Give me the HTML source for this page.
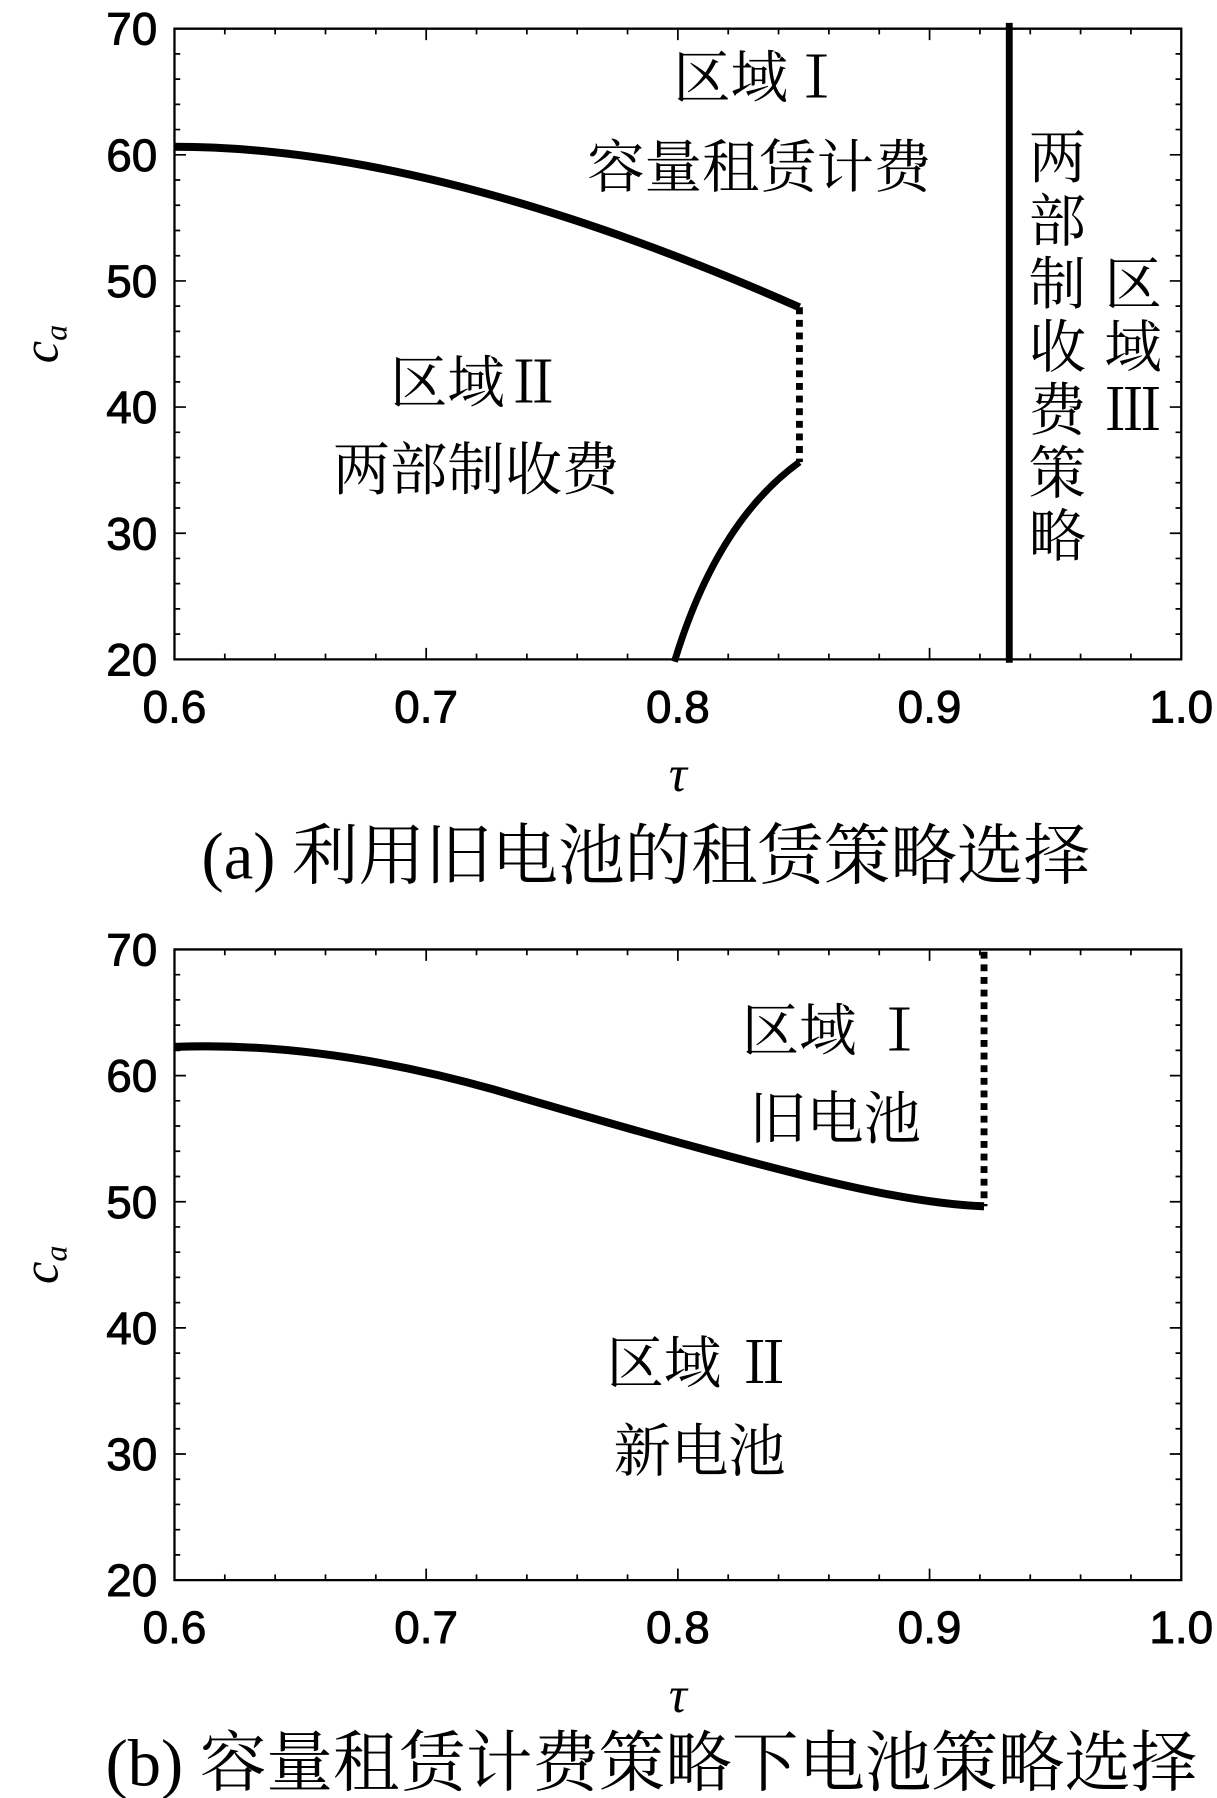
<!DOCTYPE html>
<html><head><meta charset="utf-8"><style>
html,body{margin:0;padding:0;background:#fff;}
svg{display:block;}
text{font-family:"Liberation Serif","Noto Serif CJK SC",serif;}
.t{font-family:"Liberation Sans",sans-serif;font-size:40px;stroke:#000;stroke-width:0.8;}
.r{font-size:50px;}
</style></head><body>
<svg width="1217" height="1798" viewBox="0 0 1061 1568" xmlns="http://www.w3.org/2000/svg">
<defs>
<g id="ticks" stroke="#000" stroke-width="1.5">
  <path d="M152,25 V575 H1030 V25 Z" fill="none" stroke-width="2"/>
  <path d="M152,575v-10M371.5,575v-10M591,575v-10M810.5,575v-10M152,25v10M371.5,25v10M591,25v10M810.5,25v10"/>
  <path d="M195.9,575v-5M239.8,575v-5M283.7,575v-5M327.6,575v-5M415.4,575v-5M459.3,575v-5M503.2,575v-5M547.1,575v-5M634.9,575v-5M678.8,575v-5M722.7,575v-5M766.6,575v-5M854.4,575v-5M898.3,575v-5M942.2,575v-5M986.1,575v-5
  M195.9,25v5M239.8,25v5M283.7,25v5M327.6,25v5M415.4,25v5M459.3,25v5M503.2,25v5M547.1,25v5M634.9,25v5M678.8,25v5M722.7,25v5M766.6,25v5M854.4,25v5M898.3,25v5M942.2,25v5M986.1,25v5"/>
  <path d="M152,135h10M152,245h10M152,355h10M152,465h10M1030,135h-10M1030,245h-10M1030,355h-10M1030,465h-10"/>
  <path d="M152,47h5M152,69h5M152,91h5M152,113h5M152,157h5M152,179h5M152,201h5M152,223h5M152,267h5M152,289h5M152,311h5M152,333h5M152,377h5M152,399h5M152,421h5M152,443h5M152,487h5M152,509h5M152,531h5M152,553h5
  M1030,47h-5M1030,69h-5M1030,91h-5M1030,113h-5M1030,157h-5M1030,179h-5M1030,201h-5M1030,223h-5M1030,267h-5M1030,289h-5M1030,311h-5M1030,333h-5M1030,377h-5M1030,399h-5M1030,421h-5M1030,443h-5M1030,487h-5M1030,509h-5M1030,531h-5M1030,553h-5"/>
</g>
<g id="labels">
  <text x="137" y="39" text-anchor="end" class="t">70</text>
  <text x="137" y="149" text-anchor="end" class="t">60</text>
  <text x="137" y="259" text-anchor="end" class="t">50</text>
  <text x="137" y="369" text-anchor="end" class="t">40</text>
  <text x="137" y="479" text-anchor="end" class="t">30</text>
  <text x="137" y="589" text-anchor="end" class="t">20</text>
  <text x="152" y="630" text-anchor="middle" class="t">0.6</text>
  <text x="371.5" y="630" text-anchor="middle" class="t">0.7</text>
  <text x="591" y="630" text-anchor="middle" class="t">0.8</text>
  <text x="810.5" y="630" text-anchor="middle" class="t">0.9</text>
  <text x="1030" y="630" text-anchor="middle" class="t">1.0</text>
  <text x="591" y="690" text-anchor="middle" font-style="italic" font-size="44">τ</text>
  <text transform="translate(50,300) rotate(-90)" text-anchor="middle" font-style="italic" font-size="44">c<tspan font-size="28" dy="8">a</tspan></text>
</g>
</defs>

<use href="#ticks"/>
<use href="#labels"/>
<path d="M152,128 Q380,128 697,268" fill="none" stroke="#000" stroke-width="7"/>
<path d="M697,268 V403" stroke="#000" stroke-width="6" stroke-dasharray="6,5"/>
<path d="M697,403 Q625,455 588,577" fill="none" stroke="#000" stroke-width="6"/>
<path d="M880,20 V578" stroke="#000" stroke-width="6"/>
<text x="662" y="85" text-anchor="middle" class="r">区域Ⅰ</text>
<text x="662" y="163" text-anchor="middle" class="r">容量租赁计费</text>
<text x="415" y="351" text-anchor="middle" class="r">区域Ⅱ</text>
<text x="415" y="427" text-anchor="middle" class="r">两部制收费</text>
<g class="r" text-anchor="middle">
<text x="922" y="155">两</text><text x="922" y="210">部</text><text x="922" y="265">制</text><text x="922" y="320">收</text><text x="922" y="375">费</text><text x="922" y="430">策</text><text x="922" y="485">略</text>
<text x="988" y="265">区</text><text x="988" y="320">域</text><text x="988" y="375">Ⅲ</text>
</g>
<text x="563" y="766" text-anchor="middle" font-size="58">(a) 利用旧电池的租赁策略选择</text>

<g transform="translate(0,803)">
<use href="#ticks"/>
<use href="#labels"/>
</g>
<path d="M152,913 Q280,908 430,950 Q600,1000 700,1025 Q800,1050 858,1052" fill="none" stroke="#000" stroke-width="7"/>
<path d="M858,830 V1052" stroke="#000" stroke-width="6" stroke-dasharray="6,5"/>
<text x="728" y="916" text-anchor="middle" class="r">区域 Ⅰ</text>
<text x="728" y="993" text-anchor="middle" class="r">旧电池</text>
<text x="610" y="1206" text-anchor="middle" class="r">区域 Ⅱ</text>
<text x="610" y="1283" text-anchor="middle" class="r">新电池</text>
<text x="568" y="1557" text-anchor="middle" font-size="58">(b) 容量租赁计费策略下电池策略选择</text>
</svg>
</body></html>
